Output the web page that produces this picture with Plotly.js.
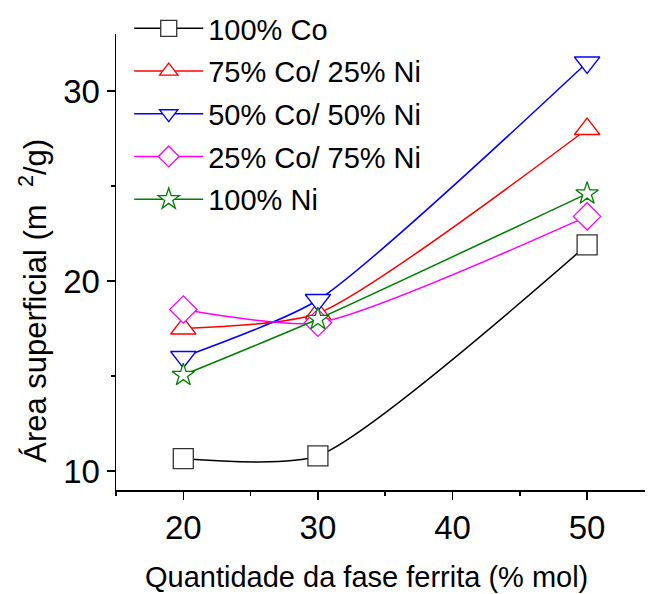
<!DOCTYPE html>
<html>
<head>
<meta charset="utf-8">
<script src="https://cdn.plot.ly/plotly-3.0.1.min.js"></script>
<style>html,body{margin:0;padding:0;background:#fff;}#chart{width:648px;height:594px;}</style>
</head>
<body>
<div id="chart"></div>
<script>
var xValues = [20, 30, 50];
var co100 = [10.65, 10.8, 21.9];
var co75ni25 = [17.5, 18.3, 28.0];
var co50ni50 = [16.0, 19.0, 31.5];
var co25ni75 = [18.5, 17.8, 23.4];
var ni100 = [15.05, 18.0, 24.6];
var seriesNames = ['100% Co', '75% Co/ 25% Ni', '50% Co/ 50% Ni', '25% Co/ 75% Ni', '100% Ni'];
var seriesValues = [co100, co75ni25, co50ni50, co25ni75, ni100];
var xTickVals = [20, 30, 40, 50];
var yTickVals = [10, 20, 30];
var colors = ['#000000', '#FF0000', '#0000FF', '#FF00FF', '#008000'];
var symbols = ['square', 'triangle-up', 'triangle-down', 'diamond', 'star'];
var sizes = [20, 22, 22, 21, 17];

var FONT = 'Liberation Sans, Arial, sans-serif';
var traces = seriesValues.map(function (vals, i) {
  return {
    x: xValues, y: vals, name: seriesNames[i], type: 'scatter', mode: 'lines+markers',
    legendgroup: 'g' + i,
    line: {color: colors[i], width: 1.5, shape: 'spline', smoothing: 0.6},
    marker: {symbol: symbols[i], size: sizes[i], color: '#ffffff', line: {color: i === 0 ? '#333333' : colors[i], width: 1.3}}
  };
});

var layout = {
  width: 648, height: 594,
  margin: {l: 116, r: 3, t: 30, b: 104},
  paper_bgcolor: '#ffffff', plot_bgcolor: '#ffffff',
  font: {family: FONT, size: 29, color: '#000000'},
  showlegend: true,
  legend: {x: 0.025, y: 1.068, xanchor: 'left', yanchor: 'top', bgcolor: 'rgba(0,0,0,0)',
           font: {family: FONT, size: 29}, traceorder: 'grouped', tracegroupgap: 2, itemwidth: 69},
  xaxis: {
    range: [15, 54.3], showgrid: false, zeroline: false, showline: true, linecolor: '#000', linewidth: 1.5,
    ticks: 'outside', ticklen: 8, tickwidth: 1.5, tickcolor: '#000', tickvals: xTickVals,
    minor: {tickvals: [15, 25, 35, 45], ticks: 'outside', ticklen: 4, tickwidth: 1.5, tickcolor: '#000'},
    tickfont: {family: FONT, size: 33}
  },
  yaxis: {
    range: [9, 33], showgrid: false, zeroline: false, showline: true, linecolor: '#000', linewidth: 1.5,
    ticks: 'outside', ticklen: 8, tickwidth: 1.5, tickcolor: '#000', tickvals: yTickVals,
    minor: {tickvals: [15, 25], ticks: 'outside', ticklen: 4, tickwidth: 1.5, tickcolor: '#000'},
    tickfont: {family: FONT, size: 33}
  },
  annotations: [
    {text: 'Quantidade da fase ferrita (% mol)', xref: 'paper', yref: 'paper', x: 0.4726, y: 0,
     xanchor: 'center', yanchor: 'middle', yshift: -87, showarrow: false, font: {family: FONT, size: 29}},
    {text: 'Área superficial (m\u00a0\u00a0<sup>2</sup>/g)', xref: 'paper', yref: 'paper', x: 0, y: 0.415,
     xanchor: 'center', yanchor: 'middle', xshift: -83, textangle: -90, showarrow: false, font: {family: FONT, size: 31}}
  ]
};

Plotly.newPlot('chart', traces, layout, {displayModeBar: false, staticPlot: true});
</script>
</body>
</html>
